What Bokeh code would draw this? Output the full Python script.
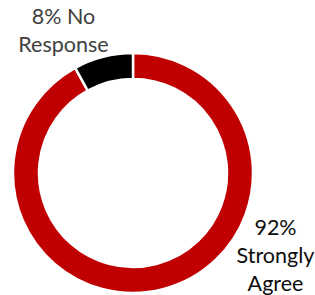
from bokeh.plotting import figure
from bokeh.models import Range1d, ColumnDataSource
from bokeh.core.properties import value
from bokeh.embed import file_html
from bokeh.resources import INLINE
import math

# Data
categories = ["Strongly Agree", "No Response"]
percents = [92, 8]
colors = ["#C00000", "#000000"]
label_lines = [["92%", "Strongly", "Agree"], ["8% No", "Response"]]
label_colors = ["#0d0d0d", "#404040"]

W, H = 315, 295
p = figure(width=W, height=H, output_backend="svg", toolbar_location=None,
           x_range=Range1d(0, W), y_range=Range1d(0, H),
           min_border=0, outline_line_color=None)
p.axis.visible = False
p.grid.visible = False
p.background_fill_color = "white"
p.border_fill_color = "white"

cx, cy = 132.5, 122.5
r_in, r_out = 94, 120

# Wedges: start at 12 o'clock, proceed clockwise
total = sum(percents)
starts, ends = [], []
cum = 0.0
for v in percents:
    a0 = math.pi / 2 - 2 * math.pi * cum / total
    a1 = math.pi / 2 - 2 * math.pi * (cum + v) / total
    starts.append(a1)
    ends.append(a0)
    cum += v

src = ColumnDataSource(dict(start=starts, end=ends, color=colors))
p.annular_wedge(x=cx, y=cy, inner_radius=r_in, outer_radius=r_out,
                start_angle="start", end_angle="end", direction="anticlock",
                fill_color="color", line_color="white", line_width=2.5,
                source=src)

# Labels
anchors = [(275, 69), (63, 280)]
line_step = 28
for lines, (ax, ay), col in zip(label_lines, anchors, label_colors):
    for i, t in enumerate(lines):
        p.text(x=[ax], y=[ay - i * line_step], text=[t],
               text_font=value("Lato"), text_font_size="21.5px",
               text_color=col, text_align="center", text_baseline="middle")

open("out.html", "w").write(file_html(p, INLINE))
